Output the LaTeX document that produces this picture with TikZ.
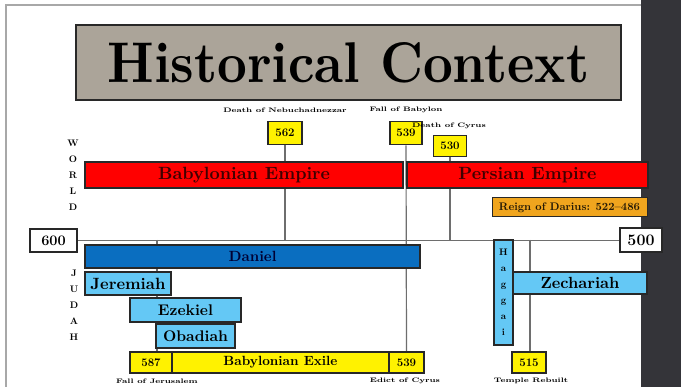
\documentclass[tikz,border=0pt]{standalone}
\usepackage{graphicx}
\definecolor{titlefill}{RGB}{171,164,153}
\definecolor{panel}{RGB}{52,52,57}
\definecolor{darius}{RGB}{240,165,30}
\definecolor{dblue}{RGB}{10,110,192}
\definecolor{lblue}{RGB}{100,200,245}
\definecolor{edge}{RGB}{40,40,40}
\definecolor{guide}{RGB}{110,110,110}
\newcommand{\fw}[2]{\resizebox{#1}{!}{\bfseries #2}}
\newcommand{\tl}[1]{\scalebox{1.3}[1]{\bfseries\fontsize{6.5}{7}\selectfont #1}}
\tikzset{
  bar/.style={draw=edge, line width=1.3pt, inner sep=0pt},
  numbox/.style={draw=edge, line width=1.8pt, fill=yellow, inner sep=0pt, font=\bfseries\fontsize{11.5}{12}\selectfont},
  endbox/.style={draw=edge, line width=2pt, fill=white, inner sep=0pt},
  tinylabel/.style={inner sep=0pt},
  letter/.style={inner sep=0pt, font=\bfseries\fontsize{9.5}{10}\selectfont},
  guideline/.style={draw=guide, line width=1.2pt},
}
\begin{document}
\begin{tikzpicture}[x=1pt,y=-1pt]
\useasboundingbox (0,0) rectangle (681,387);
\fill[white] (0,0) rectangle (681,387);
\draw[guide!60, line width=1.5pt] (6,387) -- (6,5) -- (641,5);
\fill[panel] (641,0) rectangle (681,387);

% title
\node[draw=edge, line width=2pt, fill=titlefill, minimum width=545pt, minimum height=75pt, inner sep=0pt] (title) at (348.5,62.5)
  {\resizebox{482pt}{40pt}{\bfseries Historical Context}};

% top markers
\node[numbox, minimum width=34pt, minimum height=23pt] (n562) at (285,133) {562};
\node[numbox, minimum width=32pt, minimum height=23pt] (n539t) at (406,133) {539};
\node[numbox, minimum width=33pt, minimum height=21pt] (n530) at (450,146) {530};
\node[tinylabel] (lneb) at (285,110) {\tl{Death of Nebuchadnezzar}};
\node[tinylabel] (lbab) at (406,110) {\tl{Fall of Babylon}};
\node[tinylabel] (lcyr) at (449,126) {\tl{Death of Cyrus}};

% timeline end boxes
\node[endbox, minimum width=47pt, minimum height=23pt, font=\bfseries\fontsize{14.5}{15}\selectfont] (y600) at (53.5,240.5) {600};
\node[endbox, minimum width=42pt, minimum height=24pt, font=\bfseries\fontsize{16}{16}\selectfont] (y500) at (641,240.5) {500};

% bottom markers
\node[numbox, minimum width=42pt, minimum height=21pt] (n587) at (151,362.5) {587};
\node[numbox, minimum width=35pt, minimum height=21pt] (n539b) at (406.5,362.5) {539};
\node[numbox, minimum width=34pt, minimum height=21pt] (n515) at (529,362.5) {515};

\coordinate (t562) at (285,240);
\coordinate (t530) at (450,240);
\coordinate (t587) at (157,240);
\coordinate (t515) at (530,240);

% guide lines (behind bars)
\draw[guideline, line width=1.8pt] (y600.east) -- (y500.west);
\draw[guideline] (n562.south) -- (t562);
\draw[guideline] (n539t.south) -- (n539b.north);
\draw[guideline] (n530.south) -- (t530);
\draw[guideline] (t587) -- (t587 |- n587.north);
\draw[guideline] (t515) -- (t515 |- n515.north);

% world bars
\node[bar, fill=red, minimum width=318pt, minimum height=26pt, text=black!75!red] (babemp) at (244,175) {\fw{172pt}{Babylonian Empire}};
\node[bar, fill=red, minimum width=241pt, minimum height=26pt, text=black!75!red] (peremp) at (527.5,175) {\fw{138pt}{Persian Empire}};
\node[bar, fill=darius, minimum width=155pt, minimum height=19pt, line width=1pt, text=black!85!darius] (reign) at (569.5,207.5) {\fw{141pt}{Reign of Darius: 522--486}};

% judah bars
\node[bar, fill=dblue, minimum width=335pt, minimum height=23pt, text=black!80!blue] (daniel) at (252.5,256.5) {\fw{48pt}{Daniel}};
\node[bar, fill=lblue, minimum width=86pt, minimum height=23pt] (jer) at (128,283.5) {\fw{75pt}{Jeremiah}};
\node[bar, fill=lblue, minimum width=111pt, minimum height=24pt] (eze) at (185.5,310) {\fw{55pt}{Ezekiel}};
\node[bar, fill=lblue, minimum width=79pt, minimum height=24pt] (oba) at (195.5,336) {\fw{65pt}{Obadiah}};
\node[bar, fill=lblue, minimum width=19pt, minimum height=105pt, font=\bfseries\fontsize{9.5}{16}\selectfont, align=center] (hag) at (503.5,292.5) {H\\a\\g\\g\\a\\i};
\node[bar, fill=lblue, minimum width=134pt, minimum height=22pt] (zec) at (580,283) {\fw{79pt}{Zechariah}};
\node[bar, fill=yellow, minimum width=217pt, minimum height=21pt, line width=1.8pt] (exile) at (280.5,362.5) {\fw{114pt}{Babylonian Exile}};
% redraw the end boxes of the exile bar on top
\node[numbox, minimum width=42pt, minimum height=21pt] at (n587) {587};
\node[numbox, minimum width=35pt, minimum height=21pt] at (n539b) {539};

% bottom labels
\node[tinylabel] (ljer) at (157,381) {\tl{Fall of Jerusalem}};
\node[tinylabel] (ledict) at (405,381) {\tl{Edict of Cyrus}};
\node[tinylabel] (ltemple) at (531,381) {\tl{Temple Rebuilt}};

% side letters
\foreach \l [count=\i from 0] in {W,O,R,L,D}
  \node[letter] (w\i) at (73,143+16*\i) {\l};
\foreach \l [count=\i from 0] in {J,U,D,A,H}
  \node[letter] (j\i) at (74,273+16*\i) {\l};
\end{tikzpicture}
\end{document}
